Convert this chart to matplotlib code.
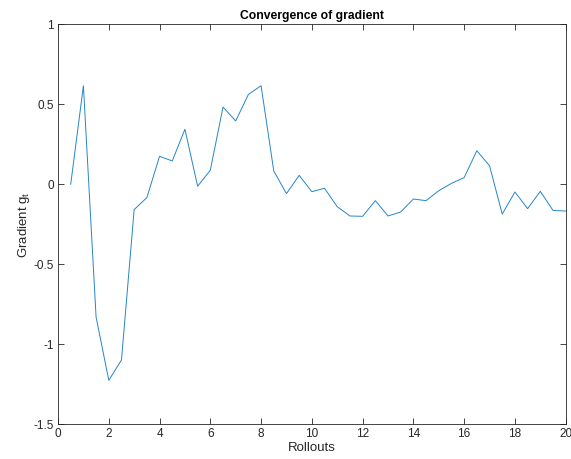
import matplotlib.pyplot as plt
from matplotlib.ticker import FuncFormatter

plt.rcParams['font.family'] = ['Liberation Sans', 'DejaVu Sans']

# Rollouts (every half step) and gradient values
rollouts = [0.5, 1, 1.5, 2, 2.5, 3, 3.5, 4, 4.5, 5,
            5.5, 6, 6.5, 7, 7.5, 8, 8.5, 9, 9.5, 10,
            10.5, 11, 11.5, 12, 12.5, 13, 13.5, 14, 14.5, 15,
            15.5, 16, 16.5, 17, 17.5, 18, 18.5, 19, 19.5, 20]
gradient = [0.0, 0.616, -0.83, -1.225, -1.098, -0.158, -0.083, 0.175, 0.146, 0.344,
            -0.012, 0.088, 0.483, 0.396, 0.562, 0.616, 0.083, -0.058, 0.056, -0.046,
            -0.025, -0.14, -0.198, -0.2, -0.102, -0.198, -0.173, -0.092, -0.102, -0.04,
            0.006, 0.042, 0.21, 0.116, -0.186, -0.048, -0.152, -0.044, -0.163, -0.167]

xticks = [0, 2, 4, 6, 8, 10, 12, 14, 16, 18, 20]
yticks = [-1.5, -1, -0.5, 0, 0.5, 1]

fig = plt.figure(figsize=(5.71, 4.59), dpi=100)
ax = fig.add_axes([0.1016, 0.0756, 0.8891, 0.8714])

# matlab-ish default blue, a bit lighter to match the rendered thin line
ax.plot(rollouts, gradient, color=(0.15, 0.52, 0.78), linewidth=0.7)

ax.set_xlim(0, 20)
ax.set_ylim(-1.5, 1)
ax.set_xticks(xticks)
ax.set_yticks(yticks)
ax.yaxis.set_major_formatter(FuncFormatter(lambda v, p: '%g' % v))

axcol = (0.15, 0.15, 0.15)
for s in ax.spines.values():
    s.set_color(axcol)
    s.set_linewidth(0.6)
ax.tick_params(direction='in', length=4, width=0.6, color=axcol, labelcolor=axcol,
               labelsize=8.5, top=True, right=True, pad=3)

ax.set_title('Convergence of gradient', fontsize=8.7, fontweight='bold', pad=4)
ax.set_xlabel('Rollouts', fontsize=9.5, color=axcol, labelpad=1)
ax.set_ylabel('Gradient g$_\\mathregular{t}$', fontsize=9.5, color=axcol, labelpad=1)

fig.savefig('out.png', dpi=100)
